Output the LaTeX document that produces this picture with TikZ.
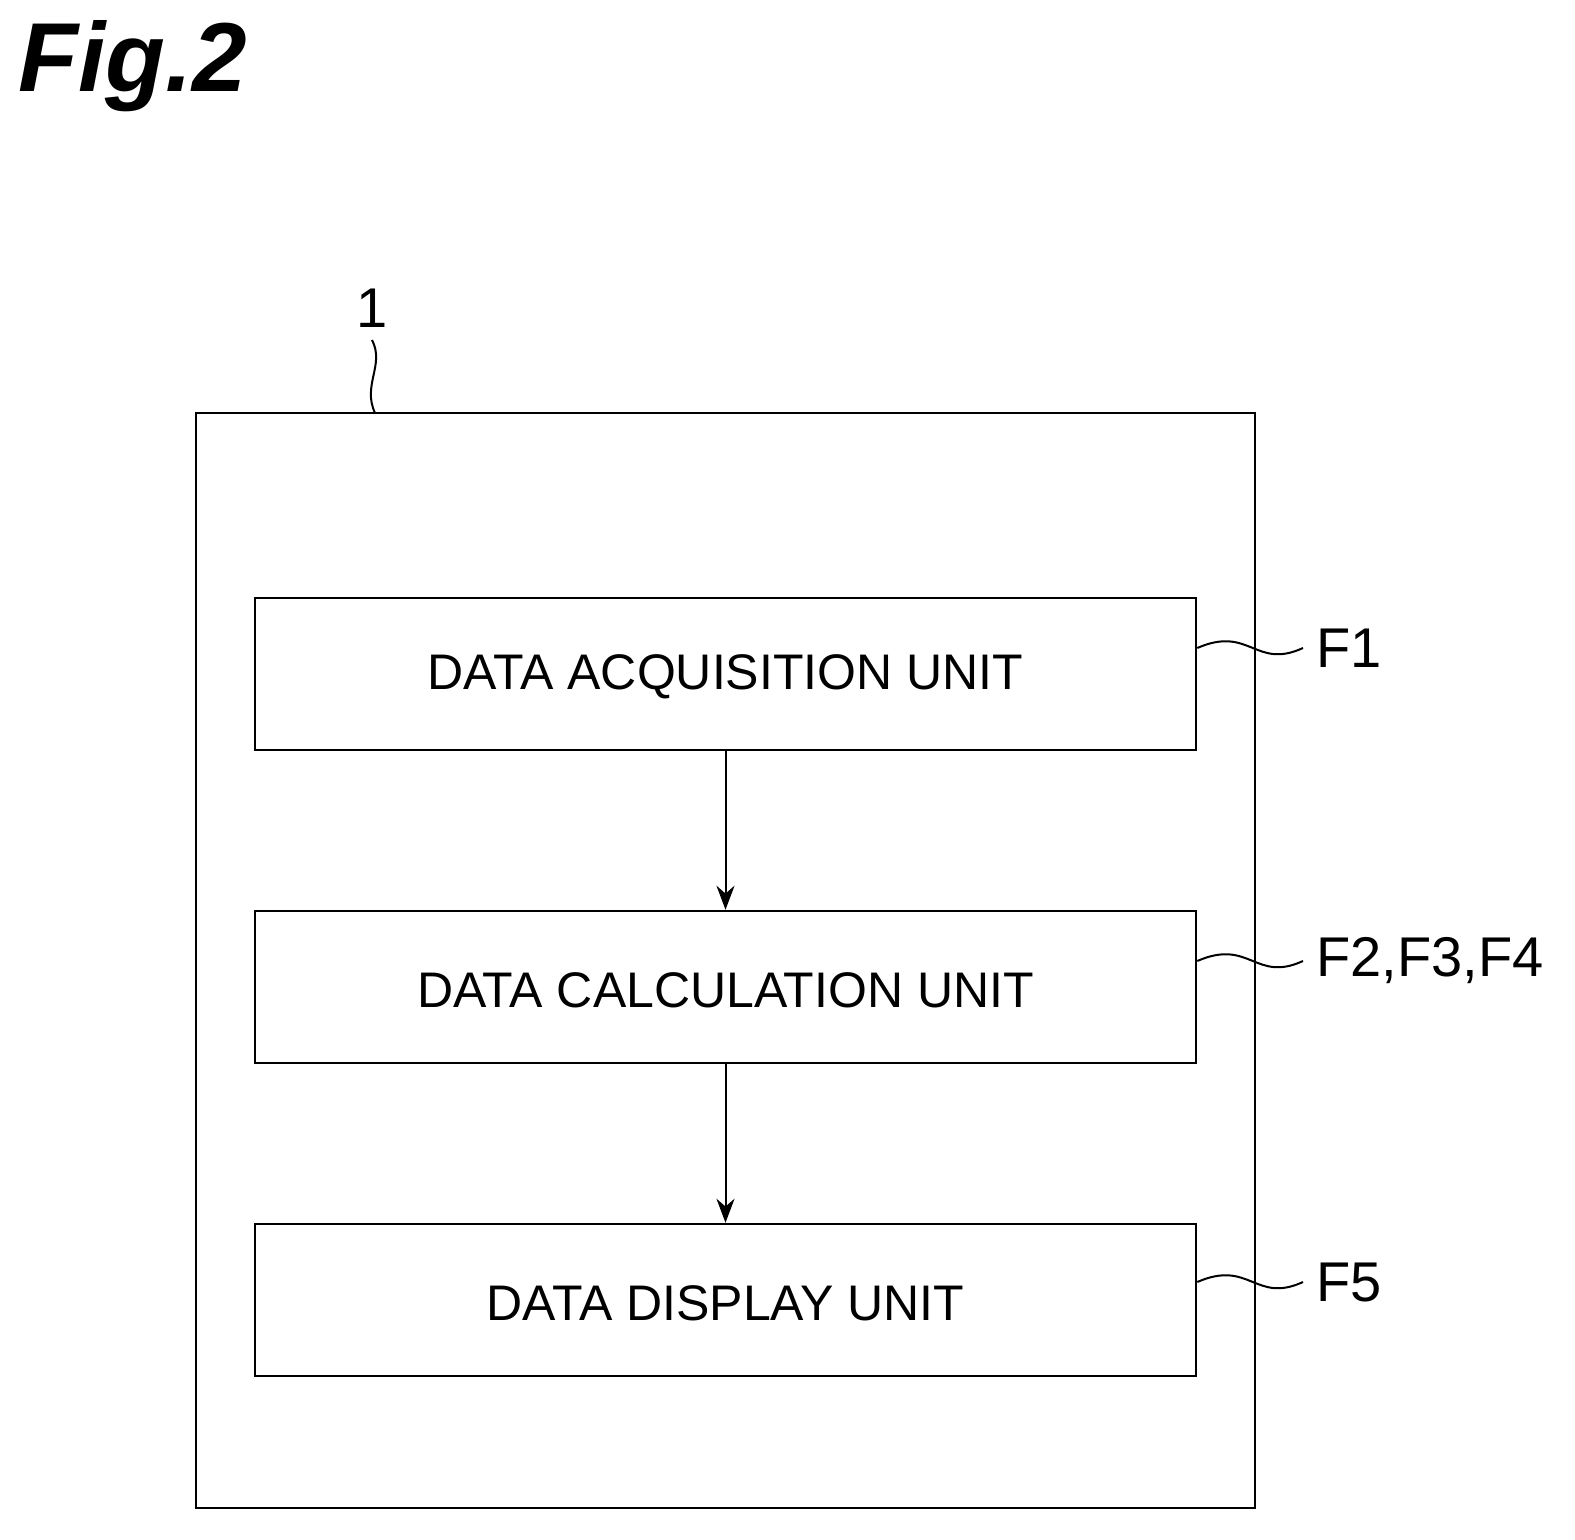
\documentclass[tikz,border=0pt]{standalone}
\usepackage{fontspec}
\usetikzlibrary{arrows.meta}
\setmainfont{Liberation Sans}
\begin{document}
\begin{tikzpicture}[x=1pt,y=-1pt,
  unit/.style={draw,line width=2.5pt,minimum width=941pt,minimum height=152pt,inner sep=0pt,font=\fontsize{50}{60}\selectfont},
  utext/.style={inner sep=0pt,font=\fontsize{50}{60}\selectfont},
  lbl/.style={font=\fontsize{56}{70}\selectfont,anchor=west,inner sep=0pt},
  arr/.style={line width=2pt,-{Stealth[length=24pt,width=18pt]}},
  sq/.style={line width=2pt}]
\useasboundingbox (0,0) rectangle (1575,1540);
\node[font=\fontsize{98}{120}\selectfont\bfseries\itshape,anchor=north west,inner sep=0pt] (fig) at (18,20) {Fig.2};
\node[draw,line width=2.5pt,minimum width=1059pt,minimum height=1095pt,inner sep=0pt] (outer) at (725.5,960.5) {};
\node[unit] (a) at (725.5,674) {};
\node[unit] (c) at (725.5,987) {};
\node[unit] (d) at (725.5,1300) {};
\node[utext] (at) at (725.5,677) {DATA ACQUISITION UNIT};
\node[utext] (ct) at (725.5,990) {DATA CALCULATION UNIT};
\node[utext] (dt) at (725.5,1303) {DATA DISPLAY UNIT};
\draw[arr] (a.south) -- (c.north);
\draw[arr] (c.south) -- (d.north);
\node[font=\fontsize{56}{70}\selectfont,inner sep=0pt] (one) at (372,308) {1};
\coordinate (onet) at (372,340);
\draw[sq] (onet) .. controls (385,365) and (362,385) .. (375,413);
\node[lbl] (f1) at (1316,648) {F1};
\node[lbl] (f2) at (1316,961) {F2,F3,F4};
\node[lbl] (f5) at (1316,1282) {F5};
\coordinate (e1) at (1303,648);
\coordinate (e2) at (1303,961);
\coordinate (e5) at (1303,1282);
\draw[sq] (a.east |- e1) .. controls (1250,625) and (1255,670) .. (e1);
\draw[sq] (c.east |- e2) .. controls (1250,938) and (1255,983) .. (e2);
\draw[sq] (d.east |- e5) .. controls (1250,1259) and (1255,1304) .. (e5);
\end{tikzpicture}
\end{document}
